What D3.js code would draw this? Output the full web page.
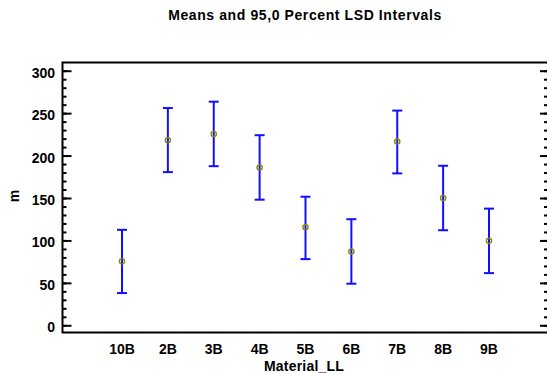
<!DOCTYPE html>
<html>
<head>
<meta charset="utf-8">
<script src="https://cdn.jsdelivr.net/npm/d3@7"></script>
<style>
  body { margin: 0; background: #fff; }
  text { font-family: Arial, "Liberation Sans", sans-serif; font-weight: bold; fill: #000; }
</style>
</head>
<body>
<svg id="chart"></svg>
<script>
// data
const materials = ['10B', '2B', '3B', '4B', '5B', '6B', '7B', '8B', '9B']
const means = [75.5, 218, 225.5, 186, 115.5, 87, 216.5, 150, 99.5]
const lower = [38, 180.5, 187.5, 148, 78, 49, 179, 112, 61.5]
const upper = [112.5, 256, 263.5, 224, 151.5, 125, 253, 188, 137.5]
const yTicks = [0, 50, 100, 150, 200, 250, 300]

let width = 547
let height = 374
let m = {top: 63, left: 62, right: 0, bottom: 41}

let svg = d3.select('#chart')
    .attr('width', width)
    .attr('height', height)

let xScale = d3.scalePoint().domain(materials).range([122, 489])
let yScale = d3.scaleLinear().domain([0, 300]).range([325.3, 70.7])

let rows = materials.map(function(d, i) {
    return {name: d, mean: means[i], lo: lower[i], hi: upper[i]}
})

// title
svg.append('text')
    .attr('x', 305)
    .attr('y', 20)
    .attr('text-anchor', 'middle')
    .style('font-size', '14px')
    .style('letter-spacing', '0.6px')
    .text('Means and 95,0 Percent LSD Intervals')

// frame
let x0 = m.left + 0.5, x1 = 548, y0 = m.top - 0.5, y1 = height - m.bottom - 0.5
svg.append('path')
    .attr('d', `M${x1},${y0}H${x0}V${y1}H${x1}`)
    .attr('fill', 'none')
    .attr('stroke', '#000')
    .attr('stroke-width', 2)

// left axis, ticks inward
let minor = d3.range(0, 301, 10)
svg.append('g')
    .attr('transform', `translate(${x0},0)`)
    .call(d3.axisRight(yScale).tickValues(minor).tickSize(4).tickFormat(''))
    .call(g => g.select('.domain').remove())
    .call(g => g.selectAll('line').attr('stroke-width', 2))
svg.append('g')
    .attr('transform', `translate(${x0},0)`)
    .call(d3.axisRight(yScale).tickValues(yTicks).tickSize(9).tickFormat(''))
    .call(g => g.select('.domain').remove())
    .call(g => g.selectAll('line').attr('stroke-width', 2))

// right axis, ticks inward
svg.append('g')
    .attr('transform', `translate(${x1},0)`)
    .call(d3.axisLeft(yScale).tickValues(minor).tickSize(4).tickFormat(''))
    .call(g => g.select('.domain').remove())
    .call(g => g.selectAll('line').attr('stroke-width', 2))
svg.append('g')
    .attr('transform', `translate(${x1},0)`)
    .call(d3.axisLeft(yScale).tickValues(yTicks).tickSize(8).tickFormat(''))
    .call(g => g.select('.domain').remove())
    .call(g => g.selectAll('line').attr('stroke-width', 2))

// y tick labels
svg.append('g')
    .selectAll('text')
    .data(yTicks)
    .enter().append('text')
    .attr('x', 55)
    .attr('y', d => yScale(d) + 7)
    .attr('text-anchor', 'end')
    .style('font-size', '14px')
    .text(d => d)

// x tick labels
svg.append('g')
    .selectAll('text')
    .data(materials)
    .enter().append('text')
    .attr('x', d => xScale(d))
    .attr('y', 354)
    .attr('text-anchor', 'middle')
    .style('font-size', '14px')
    .text(d => d)

// axis labels
svg.append('text')
    .attr('x', 304)
    .attr('y', 371)
    .attr('text-anchor', 'middle')
    .style('font-size', '14px')
    .style('letter-spacing', '0.2px')
    .text('Material_LL')

svg.append('text')
    .attr('transform', 'translate(19,196) rotate(-90)')
    .attr('text-anchor', 'middle')
    .style('font-size', '14px')
    .text('m')

// interval bars
let bars = svg.append('g')
    .selectAll('g')
    .data(rows)
    .enter().append('g')

bars.append('line')
    .attr('x1', d => xScale(d.name))
    .attr('x2', d => xScale(d.name))
    .attr('y1', d => yScale(d.lo))
    .attr('y2', d => yScale(d.hi))
    .attr('stroke', '#1010ff')
    .attr('stroke-width', 2)

bars.append('line')
    .attr('x1', d => xScale(d.name) - 5)
    .attr('x2', d => xScale(d.name) + 5)
    .attr('y1', d => yScale(d.hi))
    .attr('y2', d => yScale(d.hi))
    .attr('stroke', '#1010ff')
    .attr('stroke-width', 2)

bars.append('line')
    .attr('x1', d => xScale(d.name) - 5)
    .attr('x2', d => xScale(d.name) + 5)
    .attr('y1', d => yScale(d.lo))
    .attr('y2', d => yScale(d.lo))
    .attr('stroke', '#1010ff')
    .attr('stroke-width', 2)

// mean markers
bars.append('circle')
    .attr('cx', d => xScale(d.name))
    .attr('cy', d => yScale(d.mean))
    .attr('r', 2.6)
    .attr('fill', 'none')
    .attr('stroke', '#8a8a00')
    .attr('stroke-width', 1.4)
</script>
</body>
</html>
